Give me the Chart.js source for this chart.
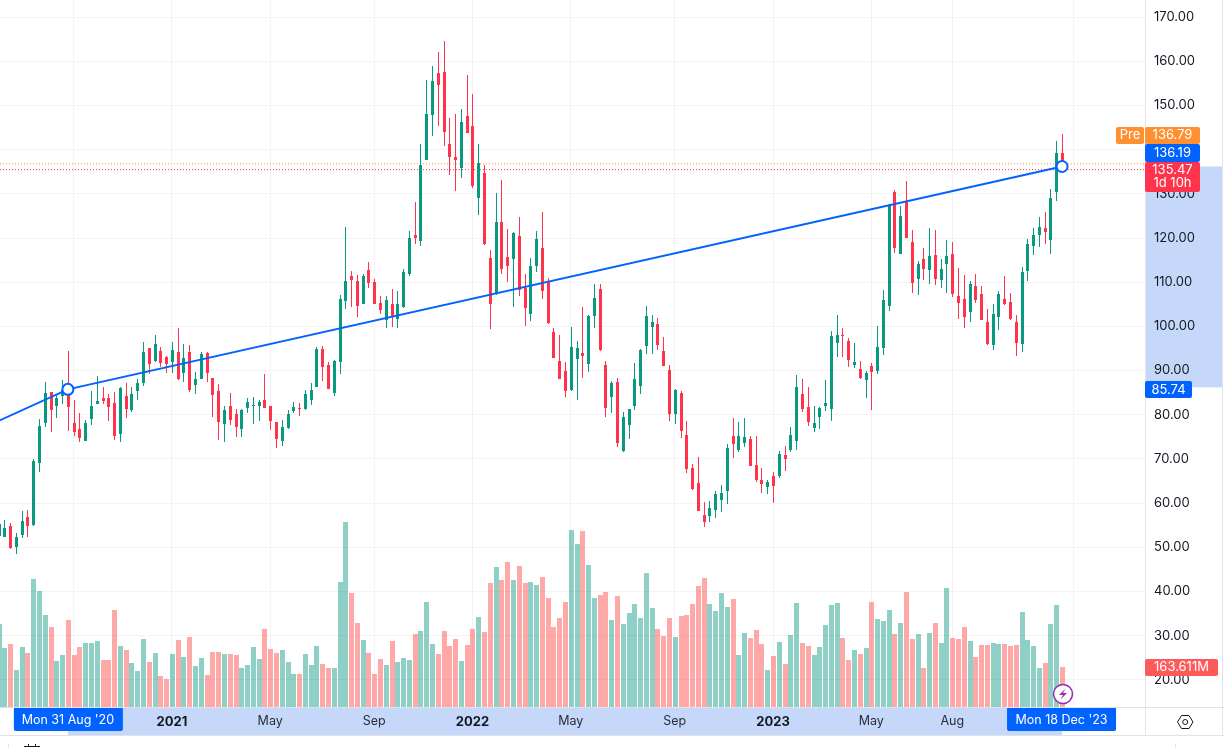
<!DOCTYPE html>
<html>
<head>
<meta charset="utf-8">
<title>Weekly chart</title>
<script src="https://cdn.jsdelivr.net/npm/chart.js@4/dist/chart.umd.min.js"></script>
<style>
    html, body { margin: 0; padding: 0; background: #fff; overflow: hidden; }
    canvas { display: block; }
</style>
</head>
<body>
<canvas id="chart" width="1224" height="748"></canvas>
<script>
// Weekly candles, first entry is the week of 8 Jun 2020, last is 18 Dec 2023
const opens = [52.5,
    52.3,54.8,50.1,52.8,56.9,55.0,69.1,78.1,85.2,82.0,
    84.2,84.8,78.1,76.8,74.1,79.0,82.4,83.8,83.8,82.6,
    75.6,84.2,81.1,85.4,87.2,95.1,92.2,94.4,93.1,91.9,
    94.2,89.4,94.2,86.7,88.1,94.0,88.3,85.4,77.9,82.0,
    80.1,76.8,81.5,82.0,82.0,83.3,82.0,78.4,74.1,77.0,
    80.8,81.5,81.3,83.3,86.3,94.9,91.2,84.9,91.9,105.7,
    111.4,110.2,105.0,112.7,110.0,105.3,101.4,105.0,101.6,104.4,
    111.8,120.6,119.3,137.6,147.8,157.3,157.5,141.2,138.3,135.8,
    147.6,145.3,129.0,134.7,115.4,107.3,123.6,115.7,115.2,120.4,
    108.7,102.8,113.6,117.7,110.2,98.7,92.2,89.9,85.6,92.6,
    94.0,91.5,102.3,108.4,91.2,84.0,87.4,71.8,77.7,82.0,
    86.5,95.5,99.8,100.5,94.4,90.1,80.2,84.9,75.4,67.9,
    64.5,57.3,57.1,58.4,60.7,62.7,75.2,72.0,73.6,74.5,
    68.6,65.2,63.6,66.1,66.1,70.9,72.0,74.0,84.7,81.7,
    77.0,79.5,82.0,81.3,96.2,98.0,96.7,91.2,90.3,87.9,
    91.0,89.9,95.1,104.6,130.4,116.4,128.3,119.1,110.7,115.2,
    112.7,116.1,110.5,114.1,116.4,106.9,106.2,103.2,109.1,107.3,
    101.0,95.8,102.1,106.2,105.5,101.0,96.0,112.5,118.2,120.7,
    122.2,119.5,130.4,139.3];
const highs = [56.5,
    56.2,55.5,53.2,58.2,58.4,70.0,79.0,87.4,85.2,84.5,
    87.8,94.4,83.3,80.4,78.8,85.4,88.8,86.3,84.7,85.2,
    86.3,87.2,86.3,88.1,96.4,95.1,98.0,95.3,93.3,96.4,
    99.6,96.0,95.8,89.7,94.2,94.2,88.3,86.9,82.0,84.9,
    81.3,81.3,83.8,84.0,83.3,89.2,82.0,78.4,78.8,81.1,
    82.9,82.6,85.7,87.2,95.3,95.5,91.9,92.4,107.1,122.5,
    112.5,111.6,111.8,114.5,110.7,106.9,106.9,108.4,108.0,113.0,
    121.6,128.1,141.2,155.7,158.9,162.1,164.5,147.1,148.0,149.2,
    156.8,152.6,141.2,136.5,117.3,130.2,133.1,122.0,121.3,124.7,
    111.8,115.4,121.6,125.9,110.9,99.6,98.0,91.9,99.8,96.7,
    104.4,102.6,109.6,109.6,92.2,87.6,88.3,80.6,81.3,91.7,
    94.9,104.6,102.6,101.9,97.6,91.2,85.8,85.4,78.6,68.8,
    70.4,60.2,60.5,62.7,64.1,73.4,79.2,78.4,79.2,75.2,
    75.2,67.9,65.2,67.0,71.8,72.9,77.2,89.0,88.1,86.3,
    82.0,81.7,87.9,98.9,102.6,99.6,97.4,96.2,92.2,89.9,
    91.7,100.1,108.2,127.8,130.8,127.2,132.9,121.8,114.8,117.7,
    122.2,121.8,115.2,119.5,119.1,113.2,111.6,110.2,111.8,109.1,
    103.9,105.1,108.0,111.4,107.5,102.6,113.4,119.8,122.2,124.7,
    125.9,131.1,141.9,143.5];
const lows = [51.5,
    52.3,49.6,48.5,52.1,52.3,54.8,67.0,77.2,76.1,79.3,
    82.4,76.3,75.2,73.8,74.1,77.7,82.4,82.4,78.6,74.3,
    73.8,79.3,80.6,83.3,86.5,89.2,91.9,90.8,89.4,89.4,
    87.9,87.4,85.2,84.7,88.1,87.4,79.5,74.3,73.8,77.7,
    75.0,75.0,80.4,77.9,78.6,81.5,76.5,72.5,72.9,76.8,
    80.4,79.7,81.1,82.2,86.3,87.6,85.8,84.2,89.2,103.9,
    104.4,102.1,105.0,108.7,105.0,102.8,99.6,99.8,99.6,104.1,
    111.4,118.6,118.2,137.6,143.1,145.3,140.8,134.2,130.6,133.5,
    143.7,131.3,125.2,118.4,99.4,107.1,111.8,110.0,104.4,106.9,
    100.1,101.2,112.3,106.2,100.5,92.8,88.1,84.0,85.4,83.3,
    88.3,89.7,99.6,94.4,79.5,80.4,72.7,71.6,74.5,81.1,
    84.7,93.7,93.7,94.6,91.0,78.6,77.9,74.7,66.8,63.0,
    58.2,54.6,55.7,56.6,58.0,59.8,70.2,71.6,72.7,68.4,
    64.8,62.3,62.1,60.0,65.7,67.3,71.6,72.0,80.6,77.4,
    76.1,76.8,80.8,78.6,93.1,93.1,90.8,90.6,88.1,83.8,
    81.1,89.2,93.5,103.5,116.6,116.4,120.0,107.5,107.1,110.5,
    109.6,109.3,108.7,107.5,106.6,101.7,99.6,101.0,105.3,101.4,
    95.8,94.6,99.2,104.8,101.4,93.3,94.2,110.3,116.1,117.9,
    118.6,116.4,128.3,135.2];
const closes = [55.2,
    54.4,49.8,52.3,56.0,54.8,69.5,77.4,84.9,81.1,83.8,
    85.6,81.7,76.1,74.7,78.1,82.0,83.1,83.1,81.7,75.2,
    86.0,81.3,84.7,87.2,94.2,91.5,96.0,91.7,91.5,94.6,
    88.1,92.8,85.6,88.1,93.7,89.4,84.5,78.4,81.1,78.8,
    77.2,81.1,82.9,82.2,82.9,81.5,78.6,74.5,77.2,80.1,
    81.7,81.4,84.7,85.6,94.9,90.8,85.8,92.2,106.2,110.2,
    110.5,104.6,111.4,109.8,105.0,103.7,106.0,102.3,105.0,112.3,
    120.0,120.0,136.5,148.0,155.5,154.6,144.0,138.3,137.6,146.2,
    143.7,131.7,136.9,118.6,105.0,123.6,113.0,113.6,121.1,108.2,
    104.1,113.6,119.7,108.0,100.7,92.8,88.1,85.4,95.3,95.1,
    93.3,102.3,106.4,94.6,81.5,87.2,73.6,79.5,81.3,88.1,
    94.6,102.3,101.0,95.8,91.0,80.2,85.6,76.3,67.7,63.2,
    58.2,55.7,58.9,62.1,62.3,72.5,73.4,75.2,75.0,68.4,
    65.2,64.3,64.8,63.9,71.1,70.0,75.4,86.3,81.3,78.4,
    78.1,81.5,82.6,97.8,98.0,97.8,92.4,91.9,88.3,89.4,
    89.7,95.3,106.0,127.4,117.7,125.0,120.0,109.8,114.1,113.0,
    115.9,110.7,113.0,115.9,107.3,105.3,102.1,109.6,106.0,101.4,
    96.0,102.8,107.3,105.1,101.7,96.2,112.3,118.6,120.7,122.5,
    121.3,129.0,139.3,135.47];
// Volume in millions
const volumes = [341,
    242,258,151,246,221,527,477,378,329,188,
    213,358,213,246,263,263,271,192,192,399,
    250,234,180,147,279,184,221,126,114,217,
    275,205,287,168,201,131,225,225,217,217,
    213,159,172,246,197,320,238,221,234,184,
    135,135,217,172,250,176,159,159,514,762,
    469,345,275,221,135,197,172,271,184,201,
    192,300,312,432,258,217,312,250,279,188,
    254,320,370,308,510,576,522,597,522,580,
    510,514,502,535,448,329,366,432,729,671,
    725,584,448,461,473,358,456,341,386,423,
    366,551,407,320,291,366,287,374,378,423,
    498,531,423,395,469,411,444,213,304,283,
    316,258,151,209,267,176,296,428,263,250,
    213,246,337,419,428,283,192,234,217,242,
    432,362,353,399,300,345,473,279,300,159,
    304,345,263,490,283,279,329,271,205,254,
    254,263,258,258,250,254,390,275,250,159,
    180,341,419,163.611];

const priceTicks = [20, 30, 40, 50, 60, 70, 80, 90, 100, 110, 120, 130, 140, 150, 160, 170];
// Week positions of the time axis grid, the first and last labels sit under the crosshair boxes
const timeTickWeeks = [13, 30, 47, 65, 82, 99, 117, 134, 151, 165, 186];
const timeTickLabels = ['', '2021', 'May', 'Sep', '2022', 'May', 'Sep', '2023', 'May', 'Aug', ''];

const trendWeeks = [0, 12, 184];
const trendPrices = [78.6, 85.74, 136.19];
const prePrice = 136.79;
const lastPrice = 135.47;
const lastVolumeLabel = '163.611M';
const startDateLabel = "Mon 31 Aug '20";
const endDateLabel = "Mon 18 Dec '23";

const UP = '#089981';
const DOWN = '#ff344c';
const UP_VOL = 'rgba(8,153,129,0.46)';
const DOWN_VOL = 'rgba(255,82,82,0.5)';
const BLUE = '#0062ff';
const ORANGE = '#ff9031';
const BAND = '#c6d8fa';
const LINE = '#e0e3eb';
const GRID = '#f1f3f6';
const TEXT = '#131722';
const FONT = 'Inter';

const xMin = 0.256;
const xMax = 198.35;

const isUp = i => closes[i] >= opens[i];
const candleColors = opens.map((o, i) => isUp(i) ? UP : DOWN);

function label(ctx, text, x, y, color, align) {
    ctx.fillStyle = color;
    ctx.textAlign = align || 'center';
    ctx.textBaseline = 'middle';
    ctx.fillText(text, x, y);
}

function box(ctx, x, y, w, h, color, radii) {
    ctx.fillStyle = color;
    ctx.beginPath();
    ctx.roundRect(x, y, w, h, radii === undefined ? 2 : radii);
    ctx.fill();
}

// Axis strips that have to sit under the tick labels
const bandsPlugin = {
    id: 'bands',
    beforeDraw(chart) {
        const { ctx, scales, chartArea } = chart;
        const startX = scales.x.getPixelForValue(trendWeeks[1]);
        const endX = scales.x.getPixelForValue(trendWeeks[2]);
        const topY = scales.y.getPixelForValue(trendPrices[2]);
        const bottomY = scales.y.getPixelForValue(trendPrices[1]) - 2;
        ctx.save();
        ctx.fillStyle = BAND;
        ctx.fillRect(startX, chartArea.bottom, endX - startX, 27);
        ctx.fillRect(chartArea.right, topY, 1222 - chartArea.right, bottomY - topY);
        ctx.fillStyle = LINE;
        ctx.fillRect(0, chartArea.bottom - 1, 1224, 1);
        ctx.fillRect(0, chartArea.bottom + 27, 1224, 1);
        ctx.fillRect(chartArea.right, 0, 1, 735);
        ctx.fillRect(1222, 0, 1, 735);
        ctx.restore();
    }
};

// Put candles and volume bars on whole pixels so the thin wicks stay sharp
const snapPlugin = {
    id: 'snap',
    beforeDatasetsDraw(chart) {
        chart.data.datasets.forEach((ds, i) => {
            if (!ds.snap) return;
            chart.getDatasetMeta(i).data.forEach(bar => {
                bar.x = Math.round(bar.x) + 0.5;
                bar.y = Math.round(bar.y);
                bar.base = Math.round(bar.base);
                if (bar.base === bar.y) bar.base = bar.y + 1;
            });
        });
    }
};

const overlayPlugin = {
    id: 'overlay',
    afterDraw(chart) {
        const { ctx, scales } = chart;
        const startX = scales.x.getPixelForValue(trendWeeks[1]);
        const endX = scales.x.getPixelForValue(trendWeeks[2]);
        ctx.save();
        ctx.font = '12.5px ' + FONT;

        // Crosshair dates on the time axis
        box(ctx, startX - 54, 708, 109, 23, BLUE, [0, 0, 2, 2]);
        label(ctx, startDateLabel, startX, 720, '#fff');
        box(ctx, endX - 55, 708, 109, 23, BLUE, [0, 0, 2, 2]);
        label(ctx, endDateLabel, endX - 0.5, 720, '#fff');

        // Price labels on the right axis
        ctx.font = '13px ' + FONT;
        box(ctx, 1116, 127, 28, 17, ORANGE);
        label(ctx, 'Pre', 1130, 135.5, '#fff');
        box(ctx, 1145, 127, 55, 17, ORANGE);
        label(ctx, prePrice.toFixed(2), 1172.5, 135.5, '#fff');
        box(ctx, 1145, 144, 55, 18, BLUE);
        label(ctx, trendPrices[2].toFixed(2), 1172.5, 153, '#fff');
        box(ctx, 1145, 162, 55, 30, DOWN);
        label(ctx, lastPrice.toFixed(2), 1172.5, 170, '#fff');
        label(ctx, '1d 10h', 1172.5, 183.5, '#fff');
        box(ctx, 1145, 381, 47, 17, BLUE);
        label(ctx, trendPrices[1].toFixed(2), 1168.5, 390, '#fff');
        box(ctx, 1145, 659, 73, 17, '#ff5a5a');
        label(ctx, lastVolumeLabel, 1181.5, 667.5, '#fff');

        // Lightning badge
        ctx.beginPath();
        ctx.arc(1063, 694, 9.5, 0, Math.PI * 2);
        ctx.fillStyle = '#fff';
        ctx.fill();
        ctx.strokeStyle = '#9c27b0';
        ctx.lineWidth = 1.5;
        ctx.stroke();
        ctx.beginPath();
        ctx.moveTo(1065.5, 688.5);
        ctx.lineTo(1059, 695);
        ctx.lineTo(1063, 695);
        ctx.lineTo(1060.5, 699.5);
        ctx.lineTo(1067, 693);
        ctx.lineTo(1063, 693);
        ctx.closePath();
        ctx.fillStyle = '#9c27b0';
        ctx.fill();

        // Settings hexagon
        ctx.strokeStyle = TEXT;
        ctx.lineWidth = 1;
        ctx.beginPath();
        [[1177.5, 722], [1181.5, 715.5], [1189, 715.5], [1193, 722], [1189, 728.5], [1181.5, 728.5]].forEach((p, i) => {
            if (i === 0) ctx.moveTo(p[0], p[1]); else ctx.lineTo(p[0], p[1]);
        });
        ctx.closePath();
        ctx.stroke();
        ctx.beginPath();
        ctx.arc(1185.2, 722, 2.5, 0, Math.PI * 2);
        ctx.stroke();

        // Start of the toolbar under the chart
        ctx.fillStyle = LINE;
        ctx.fillRect(8, 744, 1, 4);
        ctx.fillRect(1175, 744, 1, 4);
        ctx.fillStyle = TEXT;
        ctx.fillRect(24, 746, 16, 1);
        ctx.fillRect(28, 744, 1, 3);
        ctx.fillRect(35, 744, 1, 3);
        ctx.restore();
    }
};

new Chart(document.getElementById('chart'), {
    type: 'bar',
    data: {
        datasets: [
            {
                type: 'line',
                data: trendWeeks.map((w, i) => ({ x: w, y: trendPrices[i] })),
                borderColor: BLUE,
                borderWidth: 2,
                pointRadius: ctx => ctx.dataIndex === 0 ? 0 : 5.5,
                pointBackgroundColor: '#fff',
                pointBorderColor: BLUE,
                pointBorderWidth: 2,
                order: 1
            },
            {
                data: opens.map((o, i) => ({ x: i, y: [o, closes[i]] })),
                backgroundColor: candleColors,
                maxBarThickness: 3,
                snap: true,
                order: 2
            },
            {
                data: highs.map((h, i) => ({ x: i, y: [lows[i], h] })),
                backgroundColor: candleColors,
                maxBarThickness: 1,
                snap: true,
                order: 3
            },
            {
                type: 'line',
                data: [{ x: xMin, y: prePrice }, { x: xMax, y: prePrice }],
                borderColor: ORANGE,
                borderWidth: 1,
                borderDash: [1, 2],
                pointRadius: 0,
                order: 4
            },
            {
                type: 'line',
                data: [{ x: xMin, y: lastPrice }, { x: xMax, y: lastPrice }],
                borderColor: DOWN,
                borderWidth: 1,
                borderDash: [1, 2],
                pointRadius: 0,
                order: 4
            },
            {
                data: volumes.map((v, i) => ({ x: i, y: v })),
                backgroundColor: opens.map((o, i) => isUp(i) ? UP_VOL : DOWN_VOL),
                yAxisID: 'yVolume',
                maxBarThickness: 5,
                snap: true,
                order: 5
            }
        ]
    },
    options: {
        responsive: false,
        animation: false,
        devicePixelRatio: 1,
        layout: { autoPadding: false, padding: 0 },
        datasets: {
            bar: {
                grouped: false,
                barPercentage: 1,
                categoryPercentage: 1,
                inflateAmount: 0,
                borderWidth: 0
            }
        },
        plugins: {
            legend: { display: false },
            tooltip: { enabled: false }
        },
        scales: {
            x: {
                type: 'linear',
                bounds: 'data',
                offset: false,
                min: xMin,
                max: xMax,
                afterBuildTicks: scale => { scale.ticks = timeTickWeeks.map(v => ({ value: v })); },
                afterFit: scale => { scale.height = 40; },
                grid: { offset: false, color: GRID, drawTicks: false },
                border: { display: false },
                ticks: {
                    autoSkip: false,
                    maxRotation: 0,
                    padding: 6,
                    color: ctx => /^\d{4}$/.test(timeTickLabels[ctx.index]) ? TEXT : '#2a2e39',
                    font: ctx => ({
                        family: FONT,
                        size: /^\d{4}$/.test(timeTickLabels[ctx.index]) ? 13 : 12.5,
                        weight: /^\d{4}$/.test(timeTickLabels[ctx.index]) ? '700' : '400'
                    }),
                    callback: value => timeTickLabels[timeTickWeeks.indexOf(value)]
                }
            },
            y: {
                position: 'right',
                bounds: 'data',
                min: 13.62,
                max: 173.87,
                afterBuildTicks: scale => { scale.ticks = priceTicks.map(v => ({ value: v })); },
                afterFit: scale => {
                    scale.width = 79;
                    scale.paddingTop = 0;
                    scale.paddingBottom = 0;
                },
                grid: { color: GRID, drawTicks: false },
                border: { display: false },
                ticks: {
                    autoSkip: false,
                    padding: 9,
                    color: TEXT,
                    font: { family: FONT, size: 13 },
                    callback: value => value.toFixed(2)
                }
            },
            yVolume: {
                display: false,
                bounds: 'data',
                min: -4,
                max: 2916
            }
        }
    },
    plugins: [bandsPlugin, snapPlugin, overlayPlugin]
});
</script>
</body>
</html>
